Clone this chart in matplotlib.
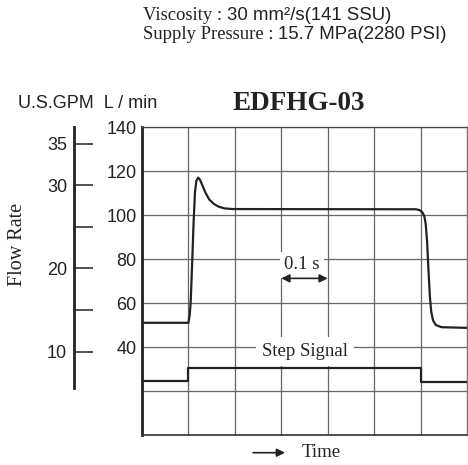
import numpy as np
import matplotlib
matplotlib.use('Agg')
import matplotlib.pyplot as plt

# Datos
t_flow = [0, 0.100, 0.103, 0.105, 0.108, 0.111, 0.114, 0.117, 0.121, 0.125,
          0.130, 0.137, 0.145, 0.155, 0.165, 0.178, 0.195, 0.59, 0.598, 0.604,
          0.608, 0.611, 0.614, 0.617, 0.620, 0.623, 0.627, 0.633, 0.645, 0.70]
q_flow = [51, 51, 55, 61, 78, 96, 110, 115.5, 117, 116,
          113.5, 110, 107, 105, 103.8, 103, 102.7, 102.6, 102.2, 101.2,
          99.5, 96, 88, 75, 63, 56, 52, 50, 49, 48.7]

t_step = [0, 0.1, 0.1, 0.6, 0.6, 0.7]
q_step = [24.7, 24.7, 30.4, 30.4, 24.3, 24.3]

lmin_ticks = [0, 20, 40, 60, 80, 100, 120, 140]
lmin_labels = ['', '', '40', '60', '80', '100', '120', '140']
gpm_ticks = [10, 15, 20, 25, 30, 35]
gpm_labels = ['10', '', '20', '', '30', '35']
GPM = 3.785

W, H = 468, 465
serif = 'Liberation Serif'
sans = 'Liberation Sans'
ink = '#222222'

fig = plt.figure(figsize=(W/100, H/100), dpi=100)
ax = fig.add_axes([142/W, 30/H, 325/W, 308/H])

ax.set_xlim(0, 0.7)
ax.set_ylim(0, 140)
ax.set_xticks(np.arange(0, 0.71, 0.1))
ax.set_xticklabels([])
ax.set_yticks(lmin_ticks)
ax.set_yticklabels(lmin_labels, family=sans, fontsize=13, color=ink)
ax.tick_params(axis='both', length=0, pad=4)
ax.grid(True, color='#666666', lw=0.9)
ax.set_axisbelow(True)

ax.spines['left'].set_linewidth(2)
ax.spines['left'].set_color(ink)
ax.spines['bottom'].set_linewidth(1.2)
ax.spines['bottom'].set_color('#333333')
ax.spines['top'].set_linewidth(0.9)
ax.spines['top'].set_color('#444444')
ax.spines['right'].set_linewidth(0.9)
ax.spines['right'].set_color('#777777')

ax.plot(t_flow, q_flow, color=ink, lw=1.6, zorder=4, solid_joinstyle='round')
ax.plot(t_step, q_step, color=ink, lw=1.6, zorder=4)

# Eje secundario en U.S.GPM
sec = ax.secondary_yaxis(-68/325, functions=(lambda q: q/GPM, lambda g: g*GPM))
sec.yaxis.set_ticks_position('left')
sec.set_yticks(gpm_ticks)
sec.set_yticklabels(gpm_labels, family=sans, fontsize=13, color=ink)
sec.tick_params(axis='y', direction='in', length=14, width=1.1, pad=5, color=ink)
sec.spines['left'].set_linewidth(2)
sec.spines['left'].set_color(ink)
sec.spines['left'].set_bounds(5.7, 140/GPM)

# Anotaciones dentro del grafico
ax.text(0.345, 77.3, '0.1 s', family=serif, fontsize=13.5, color=ink,
        ha='center', va='center', zorder=3,
        bbox=dict(fc='white', ec='none', pad=3))
ax.annotate('', xy=(0.3, 71.2), xytext=(0.4, 71.2),
            arrowprops=dict(arrowstyle='<|-|>', color=ink, lw=1.2,
                            mutation_scale=12, shrinkA=0, shrinkB=0))
ax.text(0.351, 37.9, 'Step Signal', family=serif, fontsize=13.5, color=ink,
        ha='center', va='center', zorder=3,
        bbox=dict(fc='white', ec='none', pad=4))

# Textos de la figura
r = fig.canvas.get_renderer()
for yb, a, b in [(20, 'Viscosity : ', '30 mm²/s(141 SSU)'),
                 (39, 'Supply Pressure : ', '15.7 MPa(2280 PSI)')]:
    t1 = fig.text(143/W, 1 - yb/H, a, family=serif, fontsize=13.4,
                  color=ink, va='baseline')
    bb = t1.get_window_extent(r)
    fig.text(bb.x1/W, 1 - yb/H, b, family=sans, fontsize=13.4,
             color=ink, va='baseline')

fig.text(18/W, 1 - 103/H, 'U.S.GPM  L / min', family=sans, fontsize=13,
         color=ink, va='center')
fig.text(299/W, 1 - 103/H, 'EDFHG-03', family=serif, fontsize=19.5,
         weight='bold', color=ink, ha='center', va='center')
fig.text(18/W, 1 - 244/H, 'Flow Rate', family=serif, fontsize=14.5,
         color=ink, ha='center', va='center', rotation=90)

ax.annotate('', xy=(285, H - 452.7), xytext=(253, H - 452.7),
            xycoords='figure pixels', textcoords='figure pixels',
            arrowprops=dict(arrowstyle='-|>', color=ink, lw=1.2,
                            mutation_scale=12, shrinkA=0, shrinkB=0))
fig.text(302/W, 1 - 452/H, 'Time', family=serif, fontsize=13.5,
         color=ink, va='center')

fig.savefig('out.png', dpi=100)
